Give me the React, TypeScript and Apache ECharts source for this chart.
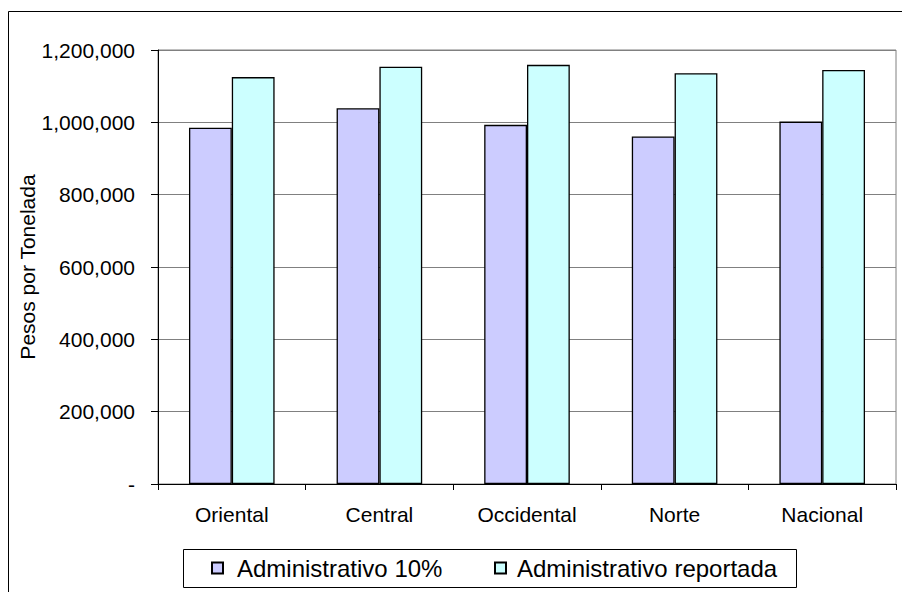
import React, { useEffect, useRef } from "react";
import * as echarts from "echarts";

// Regions on the category axis
const regions = ["Oriental", "Central", "Occidental", "Norte", "Nacional"];

// Series names
const seriesNames = ["Administrativo 10%", "Administrativo reportada"];

// Pesos por tonelada per region
const administrativo10 = [985000, 1039000, 993000, 961000, 1002000];
const administrativoReportada = [1125000, 1154000, 1159000, 1136000, 1145000];

// Value axis scale
const yMin = 0;
const yMax = 1200000;
const yStep = 200000;

const FONT = "'Liberation Sans', Arial, sans-serif";

export default function App() {
  const ref = useRef<HTMLDivElement>(null);

  useEffect(() => {
    if (!ref.current) return;
    const chart = echarts.init(ref.current, null, { renderer: "svg" });

    const legendCommon = {
      orient: "horizontal",
      top: 555,
      padding: 0,
      icon: "rect",
      itemWidth: 11,
      itemHeight: 11,
    };
    const legendText = { fontFamily: FONT, fontSize: 24, color: "#000", lineHeight: 26 };

    chart.setOption({
      animation: false,
      backgroundColor: "#fff",
      textStyle: { fontFamily: FONT },
      graphic: [
        {
          type: "rect",
          silent: true,
          shape: { x: 8.5, y: 11.5, width: 1000, height: 1000 },
          style: { fill: "none", stroke: "#000", lineWidth: 1 },
        },
        {
          type: "rect",
          silent: true,
          shape: { x: 183.5, y: 549.5, width: 613, height: 38 },
          style: { fill: "#fff", stroke: "#000", lineWidth: 1 },
          z: -1,
        },
      ],
      legend: [
        {
          ...legendCommon,
          left: 211,
          textStyle: { ...legendText, padding: [0, 0, 0, 9] },
          data: [seriesNames[0]],
        },
        {
          ...legendCommon,
          left: 494,
          textStyle: { ...legendText, padding: [0, 0, 0, 6] },
          data: [seriesNames[1]],
        },
      ],
      grid: {
        left: 158,
        right: 6,
        top: 50,
        bottom: 108,
        show: true,
        borderColor: "#808080",
        borderWidth: 1,
        backgroundColor: "transparent",
      },
      xAxis: {
        type: "category",
        data: regions,
        axisLine: { show: true, lineStyle: { color: "#000", width: 1 } },
        axisTick: { show: true, length: 6, interval: 0, lineStyle: { color: "#000" } },
        axisLabel: { fontFamily: FONT, fontSize: 21, color: "#000", margin: 20, interval: 0 },
      },
      yAxis: {
        type: "value",
        min: yMin,
        max: yMax,
        interval: yStep,
        name: "Pesos por Tonelada",
        nameLocation: "middle",
        nameGap: 120,
        nameMoveOverlap: false,
        nameTextStyle: { fontFamily: FONT, fontSize: 21, color: "#000" },
        axisLine: { show: true, lineStyle: { color: "#000", width: 1 } },
        axisTick: { show: true, length: 7, lineStyle: { color: "#000" } },
        splitLine: { show: true, lineStyle: { color: "#808080", width: 1 } },
        axisLabel: {
          fontFamily: FONT,
          fontSize: 21,
          color: "#000",
          margin: 23,
          formatter: (v: number) => (v === 0 ? "-" : v.toLocaleString("en-US")),
        },
      },
      series: [
        {
          name: seriesNames[0],
          type: "bar",
          data: administrativo10,
          barGap: "0%",
          barCategoryGap: "42%",
          itemStyle: { color: "#CCCCFF", borderColor: "#000", borderWidth: 1.3 },
        },
        {
          name: seriesNames[1],
          type: "bar",
          data: administrativoReportada,
          barGap: "0%",
          barCategoryGap: "42%",
          itemStyle: { color: "#CCFFFF", borderColor: "#000", borderWidth: 1.3 },
        },
      ],
    });

    return () => chart.dispose();
  }, []);

  return (
    <div
      ref={ref}
      style={{ position: "fixed", left: 0, top: 0, width: 902, height: 592, background: "#fff" }}
    />
  );
}
